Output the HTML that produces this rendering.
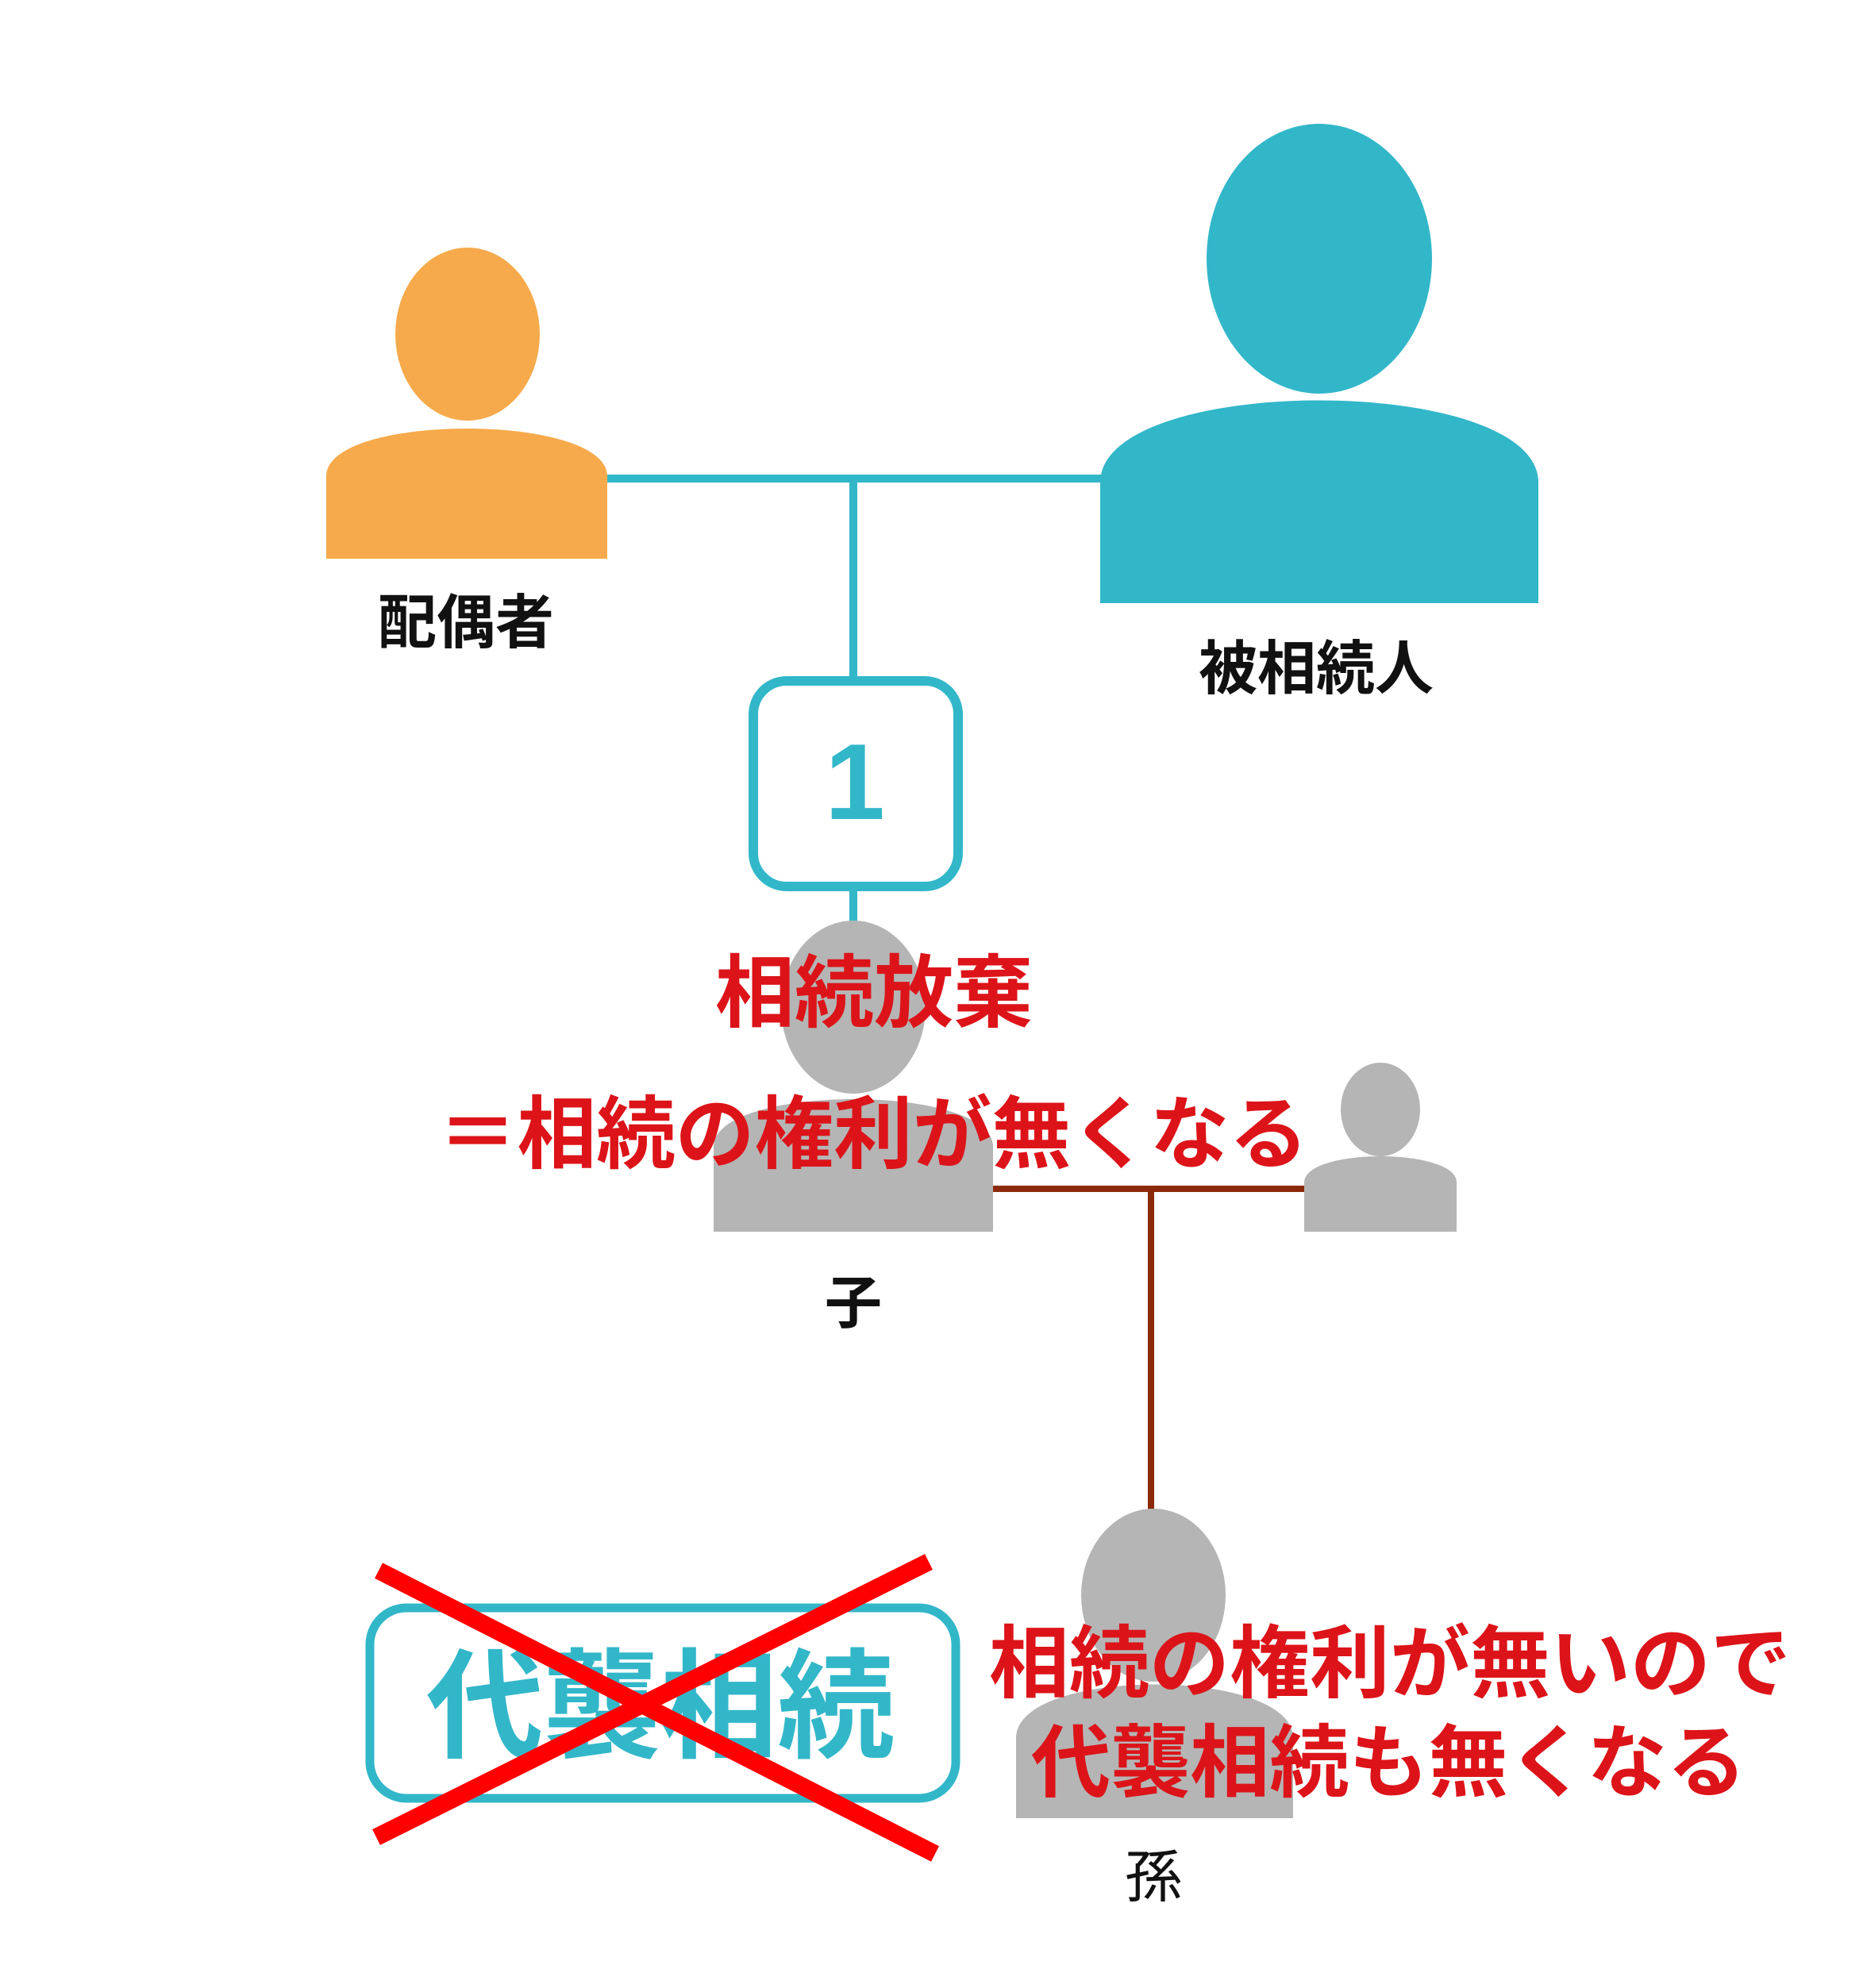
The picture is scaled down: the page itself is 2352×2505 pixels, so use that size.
<!DOCTYPE html>
<html><head><meta charset="utf-8"><style>
html,body{margin:0;padding:0;background:#fff;}
svg{display:block;}
text{font-family:"Liberation Sans","Noto Sans CJK JP",sans-serif;}
</style></head><body>
<svg width="2352" height="2505" viewBox="0 0 2352 2505" xmlns="http://www.w3.org/2000/svg">
<rect width="2352" height="2505" fill="#fff"/>
<line x1="765" y1="603" x2="1390" y2="603" stroke="#32b7c9" stroke-width="10"/>
<line x1="1075" y1="603" x2="1075" y2="860" stroke="#32b7c9" stroke-width="10"/>
<line x1="1075" y1="1115" x2="1075" y2="1165" stroke="#32b7c9" stroke-width="10"/>
<ellipse cx="589" cy="421" rx="91" ry="109" fill="#f6aa4b"/>
<path d="M411,704 L411,600 C411,520 765,520 765,600 L765,704 Z" fill="#f6aa4b"/>
<ellipse cx="1662" cy="326" rx="142" ry="170" fill="#32b7c9"/>
<path d="M1386,760 L1386,608 C1386,470 1938,470 1938,608 L1938,760 Z" fill="#32b7c9"/>
<rect x="949" y="858" width="258" height="259" rx="42" fill="#fff" stroke="#32b7c9" stroke-width="12"/>
<text x="1077" y="1032" font-size="136" font-weight="bold" fill="#32b7c9" text-anchor="middle">1</text>
<line x1="1251" y1="1498" x2="1645" y2="1498" stroke="#8b2a0a" stroke-width="8"/>
<line x1="1450" y1="1498" x2="1450" y2="1906" stroke="#8b2a0a" stroke-width="8"/>
<ellipse cx="1075" cy="1269" rx="91" ry="109" fill="#b5b5b5"/>
<path d="M899,1552 L899,1445 C899,1365 1251,1365 1251,1445 L1251,1552 Z" fill="#b5b5b5"/>
<ellipse cx="1739" cy="1398" rx="50" ry="59" fill="#b5b5b5"/>
<path d="M1643,1552 L1643,1490 C1643,1446 1835,1446 1835,1490 L1835,1552 Z" fill="#b5b5b5"/>
<ellipse cx="1453" cy="2010" rx="91" ry="109" fill="#b5b5b5"/>
<path d="M1280,2291 L1280,2190 C1280,2100 1629,2100 1629,2190 L1629,2291 Z" fill="#b5b5b5"/>
<text x="587" y="810" font-size="74" font-weight="bold" text-anchor="middle" fill="#111">配偶者</text>
<text x="1658" y="868" font-size="74" font-weight="bold" text-anchor="middle" fill="#111">被相続人</text>
<text x="1075" y="1667" font-size="72" font-weight="bold" text-anchor="middle" fill="#111">子</text>
<text x="1453" y="2390" font-size="72" text-anchor="middle" fill="#111">孫</text>
<text x="1101" y="1286" font-size="100" font-weight="bold" text-anchor="middle" fill="#dc1419">相続放棄</text>
<text x="552" y="1464" font-size="100" font-weight="bold" fill="#dc1419" textLength="1096" lengthAdjust="spacingAndGlyphs">＝相続の権利が無くなる</text>
<text x="1246" y="2131" font-size="100" font-weight="bold" fill="#dc1419" textLength="1010" lengthAdjust="spacingAndGlyphs">相続の権利が無いので</text>
<text x="1299" y="2256" font-size="100" font-weight="bold" fill="#dc1419" textLength="901" lengthAdjust="spacingAndGlyphs">代襲相続も無くなる</text>
<rect x="466" y="2026" width="738" height="240" rx="46" fill="none" stroke="#32b7c9" stroke-width="11"/>
<text x="832" y="2203" font-size="150" font-weight="bold" text-anchor="middle" fill="#32b7c9" textLength="590" lengthAdjust="spacingAndGlyphs">代襲相続</text>
<line x1="477" y1="1979" x2="1178" y2="2336" stroke="#ff0000" stroke-width="22"/>
<line x1="474" y1="2315" x2="1170" y2="1968" stroke="#ff0000" stroke-width="22"/>
</svg>
</body></html>
